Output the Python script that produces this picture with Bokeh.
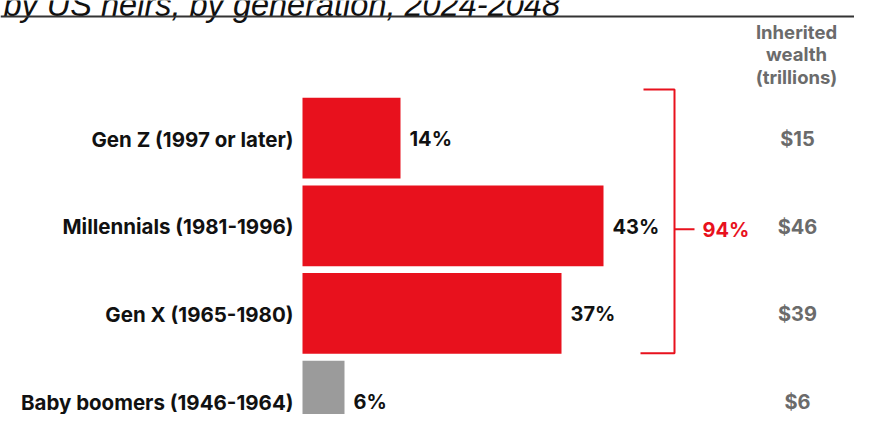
from bokeh.plotting import figure
from bokeh.models import Range1d, ColumnDataSource, Span, Label
from bokeh.core.properties import value
from bokeh.embed import file_html
from bokeh.resources import INLINE

# ---- data ----
generations = ["Gen Z (1997 or later)", "Millennials (1981-1996)",
               "Gen X (1965-1980)", "Baby boomers (1946-1964)"]
share_pct = [14, 43, 37, 6]
wealth_trillions = [15, 46, 39, 6]
bracket_total_pct = 94
title_text = "by US heirs, by generation, 2024-2048"
header_lines = ["Inherited", "wealth", "(trillions)"]

# ---- layout helpers (reference pixel -> data) ----
W, H = 854, 414
X0 = 302.0          # pixel of 0 %
PX_PER_PCT = 7.0
ROW0 = 139.5        # pixel centre of first row
ROW_STEP = 89.0
K = 0.985           # slight vertical squeeze so the last row fits
S0 = 16 + (ROW0 - 16) * K

def xd(px):
    return (px - X0) / PX_PER_PCT

def yd(px):
    return (px - ROW0) / ROW_STEP

RED = "#E8111D"
GREY = "#9B9B9B"
DARK_GREY = "#6B6B6B"
FONT = "Inter"

p = figure(width=W, height=H, output_backend="svg", toolbar_location=None,
           x_range=Range1d(xd(0), xd(W)),
           y_range=Range1d((H - S0) / (ROW_STEP * K), (0 - S0) / (ROW_STEP * K)),
           x_axis_type=None, y_axis_type=None, min_border=0)
p.outline_line_color = None
p.xgrid.visible = False
p.ygrid.visible = False
p.background_fill_color = "white"
p.border_fill_color = "white"

rows = list(range(len(generations)))
bar_colors = [RED, RED, RED, GREY]
src = ColumnDataSource(dict(
    y=rows, gen=generations, share=share_pct,
    share_lbl=[f"{v}%" for v in share_pct],
    wealth_lbl=[f"${v}" for v in wealth_trillions],
    color=bar_colors,
    wx=[xd(797)] * len(rows),
))

p.hbar(y="y", left=0, right="share", height=82 / ROW_STEP, color="color",
       line_color=None, source=src)

# category labels
p.text(x=0, y="y", text="gen", source=src, x_offset=-9, y_offset=1,
       text_align="right", text_baseline="middle",
       text_font=value(FONT), text_font_style="bold", text_font_size="20.5px",
       text_color="#111111")
# percent labels
p.text(x="share", y="y", text="share_lbl", source=src, x_offset=9, y_offset=1,
       text_align="left", text_baseline="middle",
       text_font=value(FONT), text_font_style="bold", text_font_size="20px",
       text_color="#111111")
# wealth labels
p.text(x="wx", y="y", text="wealth_lbl", source=src, y_offset=1,
       text_align="center", text_baseline="middle",
       text_font=value(FONT), text_font_style="bold", text_font_size="20px",
       text_color=DARK_GREY)

# header
for i, line in enumerate(header_lines):
    p.add_layout(Label(x=xd(796), y=yd(32 + i * 22.5), text=line,
                       text_align="center", text_baseline="middle",
                       text_font=FONT, text_font_style="bold",
                       text_font_size="18.5px", text_color=DARK_GREY))

# title (cut off at top, as in the source)
p.add_layout(Label(x=xd(3), y=yd(4), text=title_text,
                   text_align="left", text_baseline="alphabetic",
                   text_font="Liberation Sans", text_font_style="italic",
                   text_font_size="32.5px", text_color="#111111"))

# separator rule
p.add_layout(Span(location=yd(16), dimension="width", line_color="#333333",
                  line_width=2))

# bracket
p.line(x=[xd(643), xd(674), xd(674), xd(640)],
       y=[yd(90), yd(90), yd(358), yd(358)], line_color=RED, line_width=2)
p.line(x=[xd(674), xd(694)], y=[yd(232), yd(232)], line_color=RED, line_width=2)
p.add_layout(Label(x=xd(702), y=yd(233), text=f"{bracket_total_pct}%",
                   text_align="left", text_baseline="middle",
                   text_font=FONT, text_font_style="bold",
                   text_font_size="20px", text_color=RED))

open("out.html", "w").write(file_html(p, INLINE))
